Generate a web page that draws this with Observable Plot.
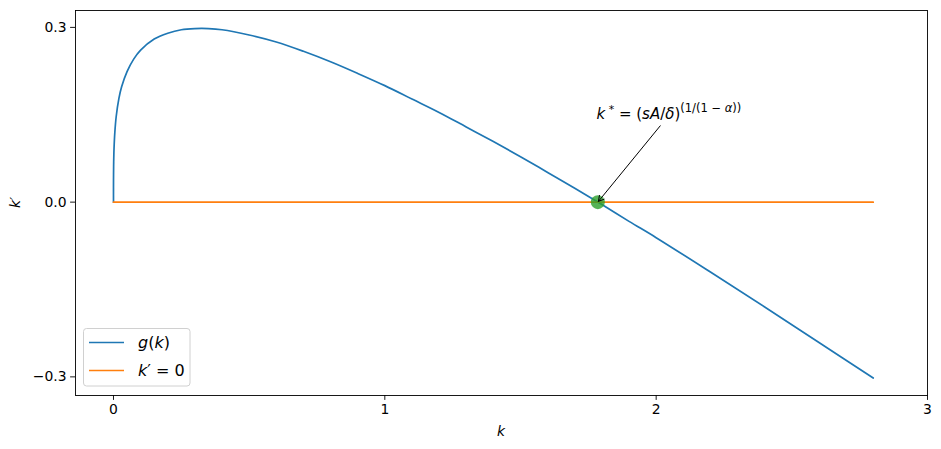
<!DOCTYPE html>
<html>
<head>
<meta charset="utf-8">
<script src="https://cdn.jsdelivr.net/npm/d3@7"></script>
<script src="https://cdn.jsdelivr.net/npm/@observablehq/plot@0.6"></script>
<style>
  html, body { margin: 0; padding: 0; background: #fff; }
  svg { font-family: "DejaVu Sans", sans-serif; }
</style>
</head>
<body>
<div id="chart"></div>
<script>
// capital stock grid
const kGrid = [0, 0.00001, 0.0001, 0.0005, 0.001, 0.002, 0.005, 0.01, 0.02, 0.03, 0.05, 0.075, 0.1, 0.15, 0.2, 0.25, 0.3, 0.35, 0.4, 0.5, 0.6, 0.7, 0.8, 0.9, 1.0, 1.1, 1.2, 1.3, 1.4, 1.5, 1.6, 1.7, 1.8, 1.9, 2.0, 2.2, 2.4, 2.6, 2.8];
// g(k) values
const gValues = [0, 0.019, 0.038, 0.061, 0.075, 0.092, 0.120, 0.147, 0.178, 0.198, 0.224, 0.246, 0.261, 0.280, 0.290, 0.296, 0.298, 0.298, 0.296, 0.287, 0.275, 0.259, 0.241, 0.221, 0.200, 0.177, 0.154, 0.129, 0.104, 0.078, 0.051, 0.024, -0.004, -0.033, -0.061, -0.120, -0.180, -0.241, -0.302];
// k' = 0 line
const zeroK = [0, 2.8];
const zeroVals = [0, 0];
// steady state
const kStar = 1.785;
const kStarVal = 0;
// annotation text anchor and arrow start
const annotK = 1.78, annotY = 0.143;
const arrowFromK = 2.015, arrowFromY = 0.131;
// ticks
const xTicks = [0, 1, 2, 3];
const yTicks = [-0.3, 0.0, 0.3];
const seriesLabels = ["g(k)", "k′ = 0"];
const seriesColors = ["#1f77b4", "#ff7f0e"];

const gData = kGrid.map((k, i) => ({k, v: gValues[i]}));
const zData = zeroK.map((k, i) => ({k, v: zeroVals[i]}));

const W = 941, H = 449;
const mL = 75, mR = 14, mT = 10, mB = 54;

const plot = Plot.plot({
  width: W, height: H,
  marginLeft: mL, marginRight: mR, marginTop: mT, marginBottom: mB,
  style: {fontFamily: "DejaVu Sans, sans-serif", fontSize: "13.9px", color: "#000", background: "#fff"},
  x: {domain: [-0.14, 3.0], label: null},
  y: {domain: [-0.332, 0.329], label: null},
  marks: [
    Plot.frame({stroke: "#000", strokeWidth: 0.9}),
    Plot.axisX({ticks: xTicks, tickFormat: d3.format("d"), tickSize: 4.9, tickPadding: 4, fontSize: 13.9, stroke: "#000", fill: "#000", strokeWidth: 0.9}),
    Plot.axisY({ticks: yTicks, tickFormat: d3.format(".1f"), tickSize: 4.9, tickPadding: 4, fontSize: 13.9, stroke: "#000", fill: "#000", strokeWidth: 0.9}),
    Plot.line(gData, {x: "k", y: "v", stroke: seriesColors[0], strokeWidth: 1.7, curve: "catmull-rom"}),
    Plot.line(zData, {x: "k", y: "v", stroke: seriesColors[1], strokeWidth: 1.7}),
    Plot.dot([{k: kStar, v: kStarVal}], {x: "k", y: "v", r: 7, fill: "#2ca02c", fillOpacity: 0.8, stroke: "none"}),
    Plot.arrow([{x1: arrowFromK, y1: arrowFromY, x2: kStar, y2: kStarVal}], {x1: "x1", y1: "y1", x2: "x2", y2: "y2", stroke: "#000", strokeWidth: 1, headLength: 9, bend: 0, insetEnd: 1}),
    Plot.text([{k: annotK, v: annotY}], {x: "k", y: "v", text: () => "k* = (sA/δ)^(1/(1−α))", textAnchor: "start", lineAnchor: "bottom", fontSize: 15, fill: "#000", className: "kstar-label"})
  ]
});

const svg = d3.select(plot);

// rebuild annotation with math-like formatting
const t = svg.select("g.kstar-label text");
t.text(null).attr("dy", null);
t.append("tspan").attr("font-style", "italic").text("k");
t.append("tspan").attr("font-size", "11px").attr("dy", -6).text(" *");
t.append("tspan").attr("dy", 6).text(" = (");
t.append("tspan").attr("font-style", "italic").text("sA");
t.append("tspan").text("/");
t.append("tspan").attr("font-style", "italic").text("δ");
t.append("tspan").text(")");
t.append("tspan").attr("font-size", "11.5px").attr("dy", -7).text("(1/(1 − ");
t.append("tspan").attr("font-size", "11.5px").attr("font-style", "italic").text("α");
t.append("tspan").attr("font-size", "11.5px").text("))");

// axis labels
svg.append("text").attr("x", (mL + W - mR) / 2).attr("y", 436)
  .attr("text-anchor", "middle").attr("font-style", "italic").attr("font-size", "13.9px").attr("fill", "#000").text("k");
svg.append("text").attr("transform", `translate(20,${(mT + H - mB) / 2}) rotate(-90)`)
  .attr("text-anchor", "middle").attr("font-style", "italic").attr("font-size", "13.9px").attr("fill", "#000").text("k′");

// legend
const lg = svg.append("g").attr("text-anchor", "start");
lg.append("rect").attr("x", 83.5).attr("y", 328.5).attr("width", 106.5).attr("height", 57.5)
  .attr("rx", 3).attr("fill", "#fff").attr("fill-opacity", 0.8).attr("stroke", "#d0d0d0").attr("stroke-width", 1);
seriesLabels.forEach((lab, i) => {
  const yy = 342.5 + i * 28;
  lg.append("line").attr("x1", 89).attr("x2", 124).attr("y1", yy).attr("y2", yy)
    .attr("stroke", seriesColors[i]).attr("stroke-width", 1.7);
  const tx = lg.append("text").attr("x", 138).attr("y", yy + 5.5).attr("text-anchor", "start").attr("font-size", "16px").attr("fill", "#000");
  if (i === 0) {
    tx.append("tspan").attr("font-style", "italic").text("g");
    tx.append("tspan").text("(");
    tx.append("tspan").attr("font-style", "italic").text("k");
    tx.append("tspan").text(")");
  } else {
    tx.append("tspan").attr("font-style", "italic").text("k");
    tx.append("tspan").text("′ = 0");
  }
});

document.getElementById("chart").appendChild(plot);
</script>
</body>
</html>
